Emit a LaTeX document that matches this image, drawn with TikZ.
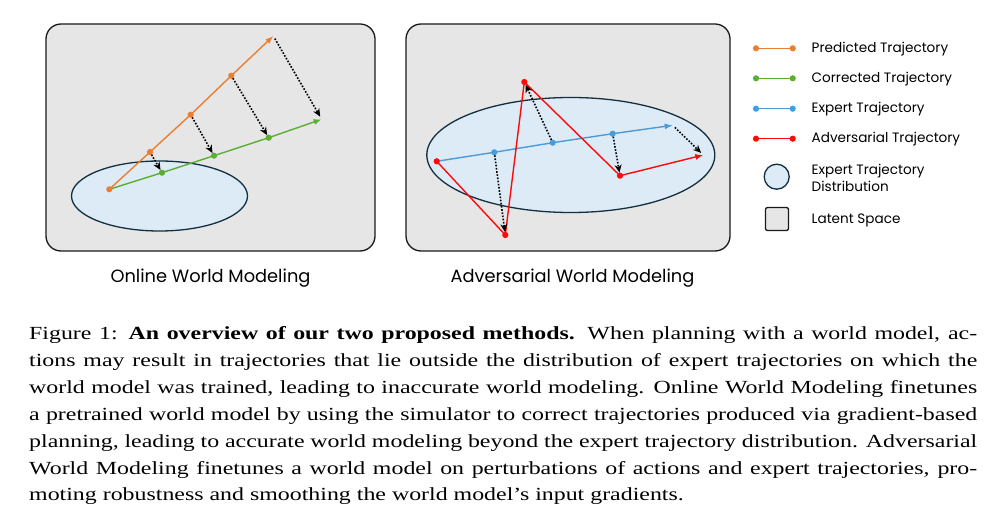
\documentclass[tikz,border=0pt]{standalone}
\usepackage{fontspec}
\setmainfont{Liberation Serif}
\newfontfamily\gothic{Poppins}
\usetikzlibrary{arrows.meta,shapes.geometric}
\definecolor{panelfill}{HTML}{E6E6E6}
\definecolor{panelline}{HTML}{1A1A1A}
\definecolor{distfill}{HTML}{DDEBF7}
\definecolor{distline}{HTML}{12303F}
\definecolor{predc}{HTML}{ED7D31}
\definecolor{corrc}{HTML}{5AAE32}
\definecolor{expc}{HTML}{4A9BD8}
\definecolor{advc}{HTML}{FF0A0A}
\tikzset{
  panel/.style={draw=panelline, fill=panelfill, line width=1.3pt, rounded corners=15pt, inner sep=0pt},
  distr/.style={ellipse, draw=distline, fill=distfill, line width=1.3pt, inner sep=0pt},
  traj/.style={draw=#1, line width=1.4pt, line join=round},
  trajarrow/.style={traj=#1, -{Latex[length=8pt,width=6pt]}},
  dotarrow/.style={draw=black, line width=1.6pt, dash pattern=on 1.6pt off 1.6pt,
     -{Stealth[length=8pt,width=7pt]}, shorten >=3pt, shorten <=3pt},
  title/.style={font=\gothic\fontsize{17.8}{20}\selectfont, inner sep=0pt, anchor=base},
  legtext/.style={font=\gothic\fontsize{13.6}{16.5}\selectfont, anchor=west, inner sep=0pt, align=left},
}
\newcommand{\dotat}[2]{\fill[#1] (#2) circle (3.1pt);}
\begin{document}
\begin{tikzpicture}[x=1pt,y=-1pt]
\useasboundingbox (0,0) rectangle (1004,529);
\fill[white] (0,0) rectangle (1004,529);

% ---------- panel 1 ----------
\node[panel, minimum width=329pt, minimum height=227pt] (p1) at (210.5,137.5) {};
\node[distr, minimum width=176pt, minimum height=70pt] (e1) at (159.5,196) {};
\coordinate (o0) at (109.3,189.3);
\coordinate (o1) at (150,152);
\coordinate (o2) at (190.7,114.7);
\coordinate (o3) at (231.3,75.7);
\coordinate (o4) at (273.3,36);
\coordinate (g1) at (162,172.7);
\coordinate (g2) at (214,155.7);
\coordinate (g3) at (268.7,137.7);
\coordinate (g4) at (321.7,119.3);
\draw[trajarrow=corrc] (o0) -- (g1) -- (g2) -- (g3) -- (g4);
\draw[trajarrow=predc] (o0) -- (o1) -- (o2) -- (o3) -- (o4);
\foreach \p in {g1,g2,g3} {\dotat{corrc}{\p}}
\foreach \p in {o0,o1,o2,o3} {\dotat{predc}{\p}}
\draw[dotarrow] (o1) -- (g1);
\draw[dotarrow] (o2) -- (g2);
\draw[dotarrow] (o3) -- (g3);
\draw[dotarrow] (o4) -- (g4);
\node[title] (t1) at (210.5,282.7) {Online World Modeling};

% ---------- panel 2 ----------
\node[panel, minimum width=324pt, minimum height=227pt] (p2) at (568,137.5) {};
\node[distr, minimum width=288pt, minimum height=115pt] (e2) at (570.8,155) {};
\coordinate (r0) at (436.7,161.3);
\coordinate (b1) at (494.3,152.3);
\coordinate (b2) at (552.7,142.7);
\coordinate (b3) at (612.7,133.7);
\coordinate (b4) at (672.7,125.3);
\coordinate (r1) at (505.3,235);
\coordinate (r2) at (524.3,82);
\coordinate (r3) at (620,175.7);
\coordinate (r4) at (703.3,155);
\draw[trajarrow=expc] (r0) -- (b1) -- (b2) -- (b3) -- (b4);
\draw[trajarrow=advc] (r0) -- (r1) -- (r2) -- (r3) -- (r4);
\foreach \p in {b1,b2,b3} {\dotat{expc}{\p}}
\foreach \p in {r0,r1,r2,r3} {\dotat{advc}{\p}}
\draw[dotarrow] (b1) -- (r1);
\draw[dotarrow] (b2) -- (r2);
\draw[dotarrow] (b3) -- (r3);
\draw[dotarrow] (b4) -- (r4);
\node[title] (t2) at (572.5,282.7) {Adversarial World Modeling};

% ---------- legend ----------
\foreach \y/\c/\n in {48.3/predc/lp, 78.3/corrc/lc, 108.7/expc/le, 138.7/advc/la} {
  \coordinate (\n a) at (756,\y);
  \coordinate (\n b) at (792.7,\y);
  \draw[traj=\c] (\n a) -- (\n b);
  \dotat{\c}{\n a}
  \dotat{\c}{\n b}
}
\node[legtext] (lt1) at (811.5,49) {Predicted Trajectory};
\node[legtext] (lt2) at (811.5,79) {Corrected Trajectory};
\node[legtext] (lt3) at (811.5,109.4) {Expert Trajectory};
\node[legtext] (lt4) at (811.5,139.4) {Adversarial Trajectory};
\node[circle, draw=distline, fill=distfill, line width=1.3pt, minimum size=25pt, inner sep=0pt] (lcirc) at (776.7,176.7) {};
\node[legtext] (lt5) at (811.5,178) {Expert Trajectory\\Distribution};
\node[draw=panelline, fill=panelfill, line width=1.3pt, rounded corners=2pt, minimum size=23pt, inner sep=0pt] (lsq) at (777,219) {};
\node[legtext] (lt6) at (811.5,220.5) {Latent Space};

% ---------- caption ----------
\node[anchor=north west, inner sep=0pt] (cap) at (29,326.6) {\scalebox{1.2907}[1]{\parbox{734.5pt}{\fontsize{18.5}{26.85}\selectfont
Figure 1: \textbf{An overview of our two proposed methods.} When planning with a world model, ac-\linebreak
tions may result in trajectories that lie outside the distribution of expert trajectories on which the\linebreak
world model was trained, leading to inaccurate world modeling. Online World Modeling finetunes\linebreak
a pretrained world model by using the simulator to correct trajectories produced via gradient-based\linebreak
planning, leading to accurate world modeling beyond the expert trajectory distribution. Adversarial\linebreak
World Modeling finetunes a world model on perturbations of actions and expert trajectories, pro-\linebreak
moting robustness and smoothing the world model's input gradients.}}};
\end{tikzpicture}
\end{document}
